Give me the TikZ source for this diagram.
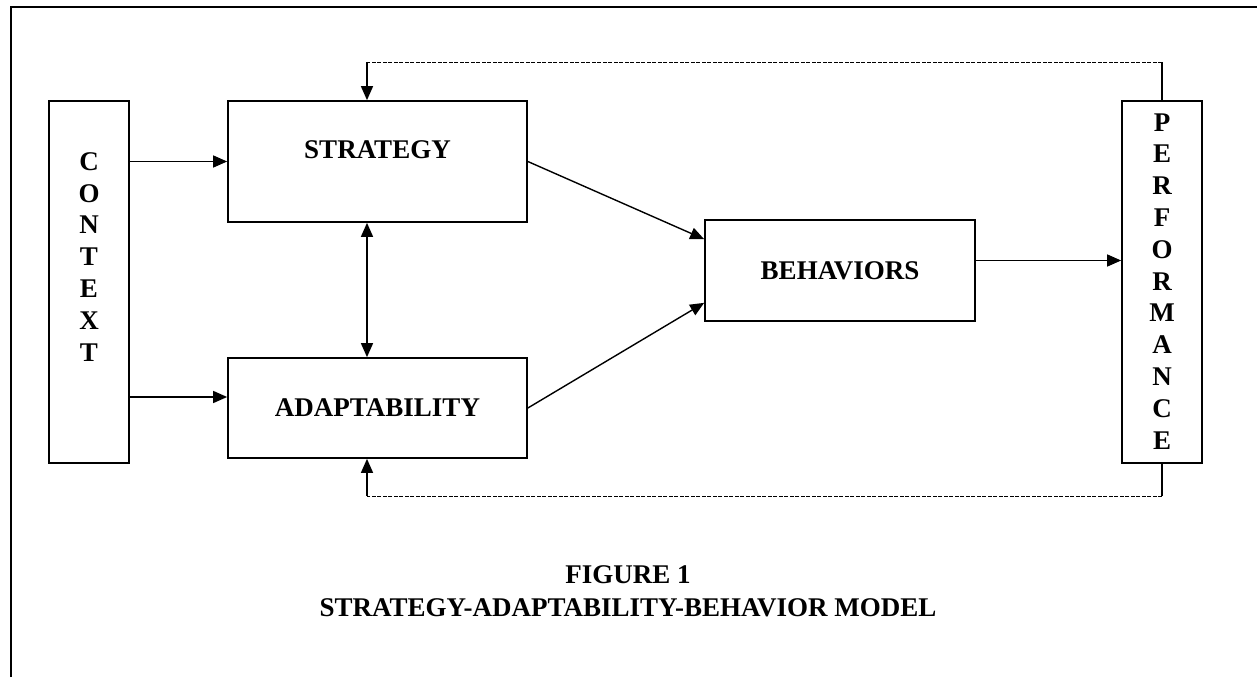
\documentclass[tikz,border=0pt]{standalone}
\usepackage{fontspec}
\setmainfont{Liberation Serif}
\usetikzlibrary{arrows.meta, positioning}

\tikzset{
    >={Triangle[length=14pt, width=12pt]},
    box/.style={draw, line width=1.7pt, inner sep=0pt,
        font=\bfseries\fontsize{27}{32}\selectfont},
    letters/.style={align=center, inner sep=0pt,
        font=\bfseries\fontsize{27}{31.8}\selectfont},
    arr/.style={->, line width=1.4pt},
    fb/.style={line width=0.9pt, dash pattern=on 4pt off 1.5pt}
}

\begin{document}
\begin{tikzpicture}[x=1pt, y=-1pt]
        \useasboundingbox (0, 0) rectangle (1257, 677);
        \draw[line width=2.2pt] (11, 677) -- (11, 7) -- (1257, 7);

        \node[box, minimum width=80pt, minimum height=362pt] (context) at (89, 282) {};
        \node[box, minimum width=80pt, minimum height=362pt] (perf) at (1162, 282) {};
        \node[box, minimum width=299pt, minimum height=121pt, text height=18pt, text depth=24pt] (strategy) at (377.5, 161.5) {STRATEGY};
        \node[box, minimum width=299pt, minimum height=100pt] (adapt) at (377.5, 408) {ADAPTABILITY};
        \node[box, minimum width=270pt, minimum height=101pt] (behav) at (840, 270.5) {BEHAVIORS};

        \node[letters, anchor=north] (contextlbl) at ([yshift=-52pt]context.north) {C\\O\\N\\T\\E\\X\\T};
        \node[letters, anchor=north] (perflbl) at ([yshift=-13pt]perf.north) {P\\E\\R\\F\\O\\R\\M\\A\\N\\C\\E};

        \draw[arr] (context.east |- strategy.west) -- (strategy.west);
        \draw[arr] (context.east |- 0, 397) -- (adapt.west |- 0, 397);
        \draw[<->, line width=1.4pt] (strategy.south -| 367, 0) -- (adapt.north -| 367, 0);
        \draw[arr] (strategy.east) -- ([yshift=-20pt]behav.north west);
        \draw[arr] (adapt.east) -- ([yshift=19pt]behav.south west);
        \draw[arr] ([yshift=10pt]behav.east) -- ([yshift=10pt]behav.east -| perf.west);

        \coordinate (tr) at (1162, 62);
        \coordinate (tl) at (367, 62);
        \coordinate (br) at (1162, 496);
        \coordinate (bl) at (367, 496);
        \draw[line width=1.2pt] (perf.north) -- (tr);
        \draw[fb] (tr) -- (tl);
        \draw[arr] (tl) -- (tl |- strategy.north);
        \draw[line width=1.2pt] (perf.south) -- (br);
        \draw[fb] (br) -- (bl);
        \draw[arr] (bl) -- (bl |- adapt.south);

        \node[letters, font=\bfseries\fontsize{27}{33}\selectfont] (caption) at (628, 591) {FIGURE 1\\STRATEGY-ADAPTABILITY-BEHAVIOR MODEL};
\end{tikzpicture}
\end{document}
